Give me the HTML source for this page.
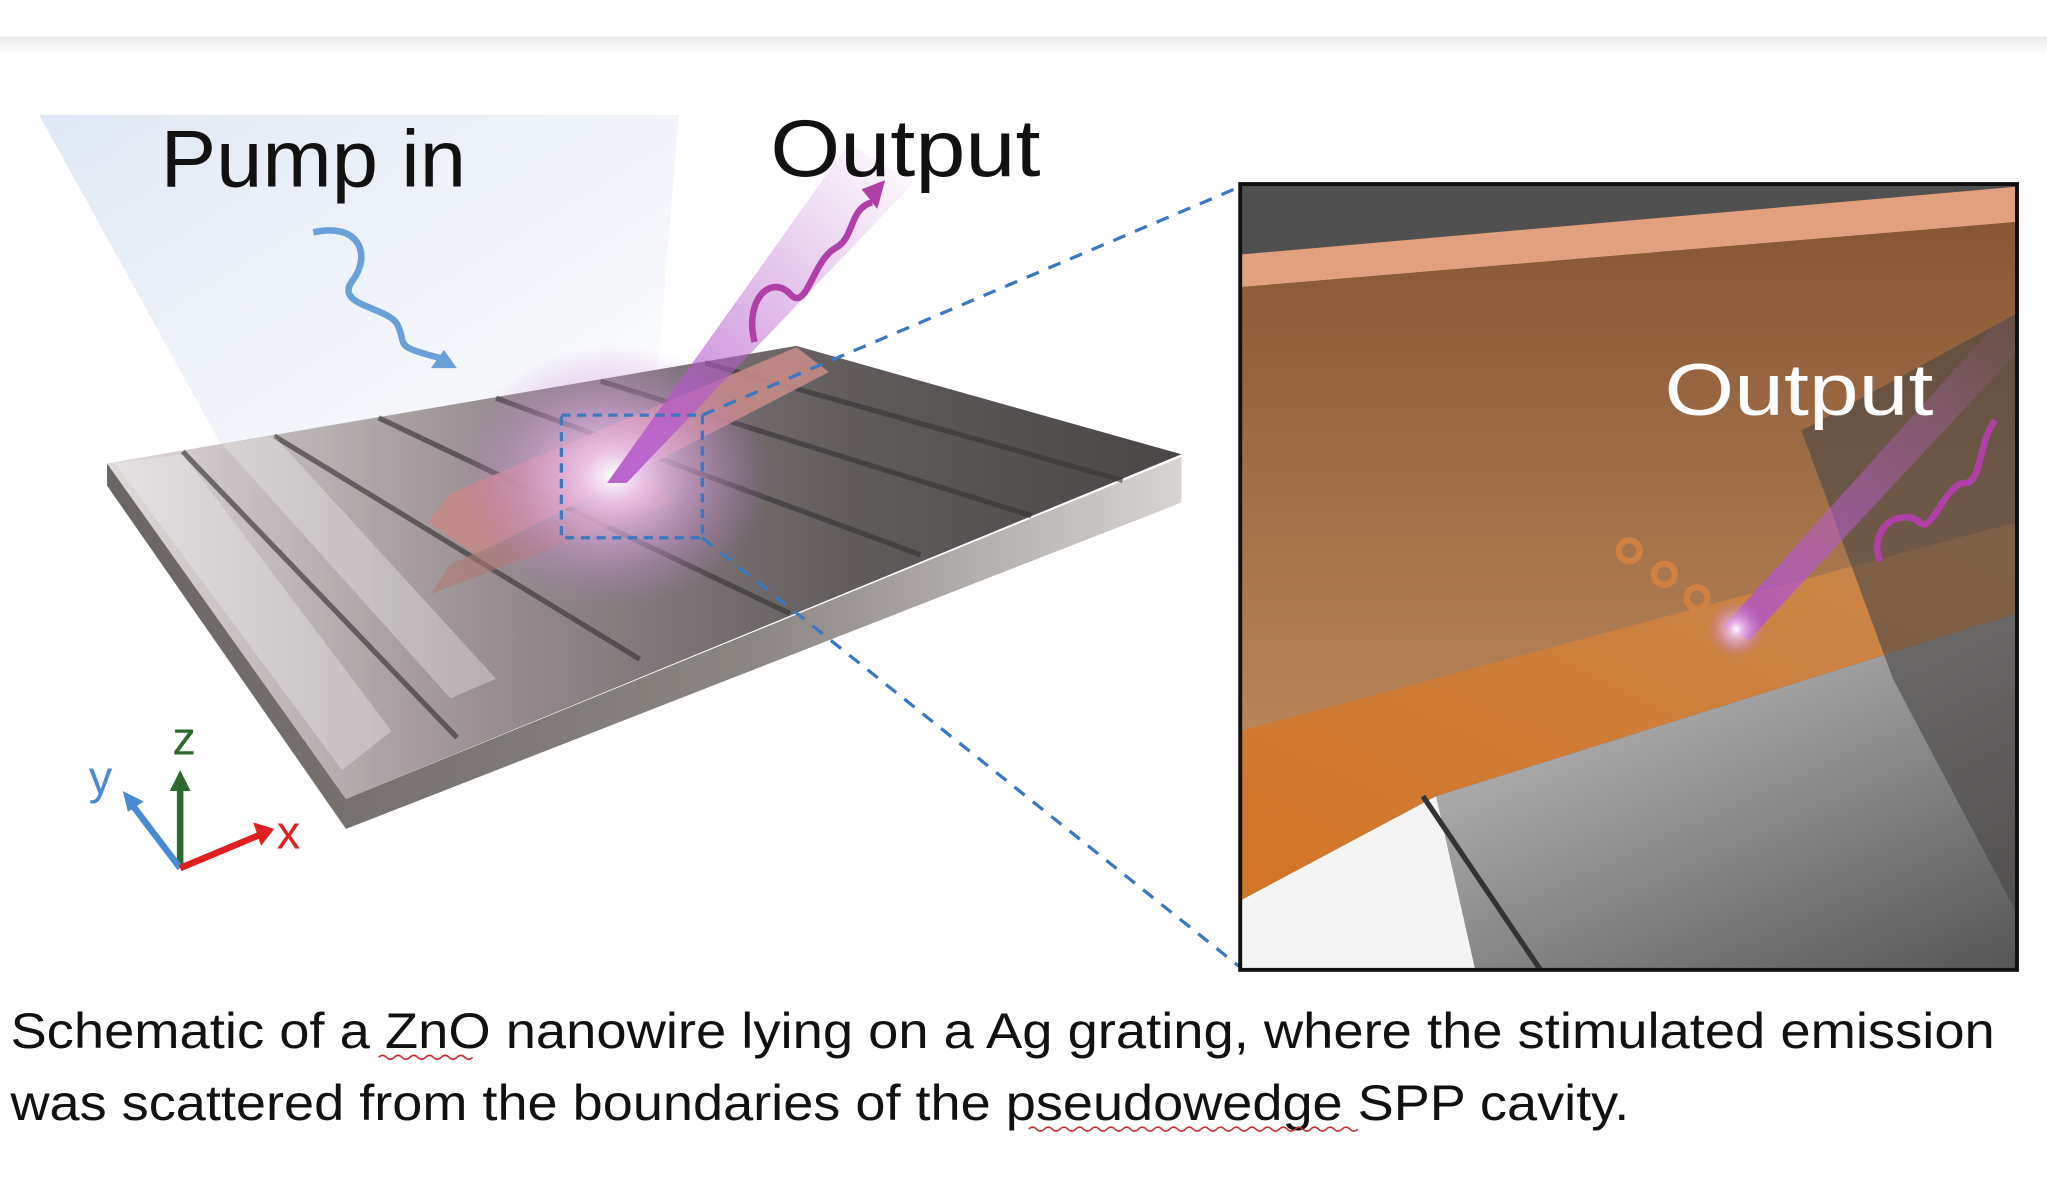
<!DOCTYPE html>
<html><head><meta charset="utf-8"><style>html,body{margin:0;padding:0;background:#fff}svg{display:block}</style></head>
<body>
<svg width="2047" height="1197" viewBox="0 0 1568 917" preserveAspectRatio="none" xmlns="http://www.w3.org/2000/svg" font-family="Liberation Sans, DejaVu Sans, sans-serif">
<defs>
<linearGradient id="topsh" x1="0" y1="0" x2="0" y2="1"><stop offset="0" stop-color="#e8e8e8"/><stop offset="1" stop-color="#fff"/></linearGradient>
<linearGradient id="pump" x1="0" y1="0" x2="1" y2="1"><stop offset="0" stop-color="#dfe8f5"/><stop offset=".7" stop-color="#eef2f8" stop-opacity=".6"/><stop offset="1" stop-color="#ffffff" stop-opacity="0"/></linearGradient>
<linearGradient id="slabtop" x1="0" y1="0" x2="1" y2="0"><stop offset="0" stop-color="#e0dada"/><stop offset=".35" stop-color="#9a8f92"/><stop offset=".7" stop-color="#605a5a"/><stop offset="1" stop-color="#4a4646"/></linearGradient>
<linearGradient id="slabfront" x1="0" y1="0" x2="1" y2="0"><stop offset="0" stop-color="#6a6462"/><stop offset=".6" stop-color="#8b8582"/><stop offset="1" stop-color="#d8d4d2"/></linearGradient>
<radialGradient id="glow"><stop offset="0" stop-color="#fff"/><stop offset=".2" stop-color="#f0c8f0" stop-opacity=".9"/><stop offset="1" stop-color="#c070d0" stop-opacity="0"/></radialGradient>
<linearGradient id="beam" x1="0" y1="1" x2="1" y2="0"><stop offset="0" stop-color="#b050c8" stop-opacity=".9"/><stop offset="1" stop-color="#c070d0" stop-opacity="0"/></linearGradient>
<linearGradient id="brown" x1="0" y1="0" x2="0" y2="1"><stop offset="0" stop-color="#875734"/><stop offset="1" stop-color="#b88458"/></linearGradient>
<linearGradient id="orng" x1="0" y1="1" x2="1" y2="0"><stop offset="0" stop-color="#d27426"/><stop offset="1" stop-color="#c9884e"/></linearGradient>
<linearGradient id="gry" x1="0" y1="0" x2="1" y2="1"><stop offset="0" stop-color="#dcdcdc"/><stop offset=".5" stop-color="#9a9a9a"/><stop offset="1" stop-color="#555"/></linearGradient>
<clipPath id="ic"><rect x="950" y="141" width="595" height="602"/></clipPath>
</defs>
<rect width="1568" height="917" fill="#fff"/>
<rect x="0" y="28" width="1568" height="14" fill="url(#topsh)"/>
<!-- pump beam -->
<polygon points="30,88 520,88 500,330 300,390 180,360" fill="url(#pump)"/>
<!-- slab -->
<polygon points="82,372 265,635 905,385 905,350 265,612 82,355" fill="url(#slabfront)"/>
<polygon points="82,355 610,265 905,348 265,612" fill="url(#slabtop)"/>
<g stroke="#3a3636" stroke-width="4" opacity=".65">
<line x1="140" y1="346" x2="350" y2="565"/>
<line x1="210" y1="334" x2="490" y2="505"/>
<line x1="290" y1="320" x2="605" y2="470"/>
<line x1="380" y1="305" x2="705" y2="425"/>
<line x1="460" y1="292" x2="790" y2="395"/>
<line x1="540" y1="278" x2="860" y2="368"/>
</g>
<polygon points="88,355 140,348 300,560 262,590" fill="#f2f0f0" opacity=".35"/>
<polygon points="170,340 210,334 380,520 345,535" fill="#f2f0f0" opacity=".35"/>
<!-- nanowire -->
<polygon points="328,400 345,378 610,266 635,285 365,425" fill="#c48a86" opacity=".9"/>
<polygon points="330,455 345,432 500,365 515,385" fill="#b07870" opacity=".55"/>
<ellipse cx="470" cy="365" rx="120" ry="100" fill="url(#glow)"/>
<!-- output beam -->
<polygon points="465,370 480,370 700,140 650,110" fill="url(#beam)"/>
<path d="M578,262 C570,230 590,210 605,225 C618,240 622,200 640,190 C655,182 650,160 668,155" fill="none" stroke="#b040a8" stroke-width="5"/>
<polygon points="660,145 678,138 672,160" fill="#b040a8"/>
<!-- pump arrow -->
<path d="M240,178 C275,170 285,195 270,215 C255,235 300,235 305,250 C312,265 300,265 340,275" fill="none" stroke="#6aa0d8" stroke-width="5"/>
<polygon points="350,282 330,282 340,268" fill="#6aa0d8"/>
<!-- dashed box & lines -->
<rect x="430" y="318" width="108" height="94" fill="none" stroke="#3a78c0" stroke-width="2.5" stroke-dasharray="7,5"/>
<line x1="538" y1="318" x2="950" y2="143" stroke="#3a78c0" stroke-width="2.5" stroke-dasharray="10,8"/>
<line x1="538" y1="412" x2="950" y2="741" stroke="#3a78c0" stroke-width="2.5" stroke-dasharray="10,8"/>
<!-- axes -->
<line x1="138" y1="665" x2="138" y2="600" stroke="#2e6a2e" stroke-width="5"/>
<polygon points="130,606 146,606 138,590" fill="#2e6a2e"/>
<line x1="138" y1="665" x2="100" y2="615" stroke="#4a8ad0" stroke-width="5"/>
<polygon points="94,606 110,614 98,622" fill="#4a8ad0"/>
<line x1="138" y1="665" x2="198" y2="640" stroke="#e02020" stroke-width="5"/>
<polygon points="210,635 194,630 200,648" fill="#e02020"/>
<text x="132" y="578" font-size="36" fill="#2e6a2e">z</text>
<text x="68" y="608" font-size="36" fill="#4a8ad0">y</text>
<text x="212" y="650" font-size="36" fill="#e02020">x</text>
<!-- labels -->
<text x="123" y="143" font-size="62" fill="#111" textLength="234" lengthAdjust="spacingAndGlyphs">Pump in</text>
<text x="590" y="135" font-size="62" fill="#111" textLength="207" lengthAdjust="spacingAndGlyphs">Output</text>
<!-- inset -->
<g clip-path="url(#ic)">
<rect x="950" y="141" width="595" height="602" fill="#555250"/>
<polygon points="950,141 1545,141 1545,148 950,195" fill="#505050"/>
<polygon points="950,195 1545,143 1545,170 950,220" fill="#e2a07e"/>
<polygon points="950,220 1545,170 1545,420 950,560" fill="url(#brown)"/>
<polygon points="950,560 1545,400 1545,470 1100,610 950,690" fill="url(#orng)"/>
<polygon points="950,690 1100,610 1545,470 1545,743 950,743" fill="url(#gry)"/>
<polygon points="950,690 1100,610 1130,743 950,743" fill="#f4f4f4"/>
<line x1="1090" y1="610" x2="1180" y2="743" stroke="#333" stroke-width="4"/>
<polygon points="1380,330 1545,240 1545,700 1450,520" fill="#4a4644" opacity=".6"/>
<polygon points="1320,480 1340,490 1545,270 1545,230" fill="url(#beam)"/>
<circle cx="1330" cy="482" r="22" fill="url(#glow)"/>
<g fill="none" stroke-width="5">
<circle cx="1248" cy="422" r="8" stroke="#d08040"/>
<circle cx="1275" cy="440" r="8" stroke="#d08040"/>
<circle cx="1300" cy="458" r="8" stroke="#d08040"/>
</g>
<path d="M1440,430 C1430,400 1460,390 1470,400 C1480,410 1490,370 1505,370 C1518,370 1515,340 1528,322" fill="none" stroke="#b040a8" stroke-width="5"/>
<text x="1275" y="318" font-size="56" fill="#fff" textLength="206" lengthAdjust="spacingAndGlyphs">Output</text>
</g>
<rect x="950" y="141" width="595" height="602" fill="none" stroke="#111" stroke-width="3"/>
<!-- caption -->
<text x="8" y="803" font-size="38" fill="#111" textLength="1520" lengthAdjust="spacingAndGlyphs">Schematic of a ZnO nanowire lying on a Ag grating, where the stimulated emission</text>
<text x="8" y="858" font-size="38" fill="#111" textLength="1240" lengthAdjust="spacingAndGlyphs">was scattered from the boundaries of the pseudowedge SPP cavity.</text>
<path d="M290,810 q3,-3 6,0 t6,0 t6,0 t6,0 t6,0 t6,0 t6,0 t6,0 t6,0 t6,0 t6,0 t6,0" fill="none" stroke="#c03030" stroke-width="1.2"/>
<path d="M788,865 q3,-3 6,0 t6,0 t6,0 t6,0 t6,0 t6,0 t6,0 t6,0 t6,0 t6,0 t6,0 t6,0 t6,0 t6,0 t6,0 t6,0 t6,0 t6,0 t6,0 t6,0 t6,0 t6,0 t6,0 t6,0 t6,0 t6,0 t6,0 t6,0 t6,0 t6,0 t6,0 t6,0 t6,0 t6,0 t6,0 t6,0 t6,0 t6,0 t6,0 t6,0 t6,0 t6,0" fill="none" stroke="#c03030" stroke-width="1.2"/>
</svg>
</body></html>
